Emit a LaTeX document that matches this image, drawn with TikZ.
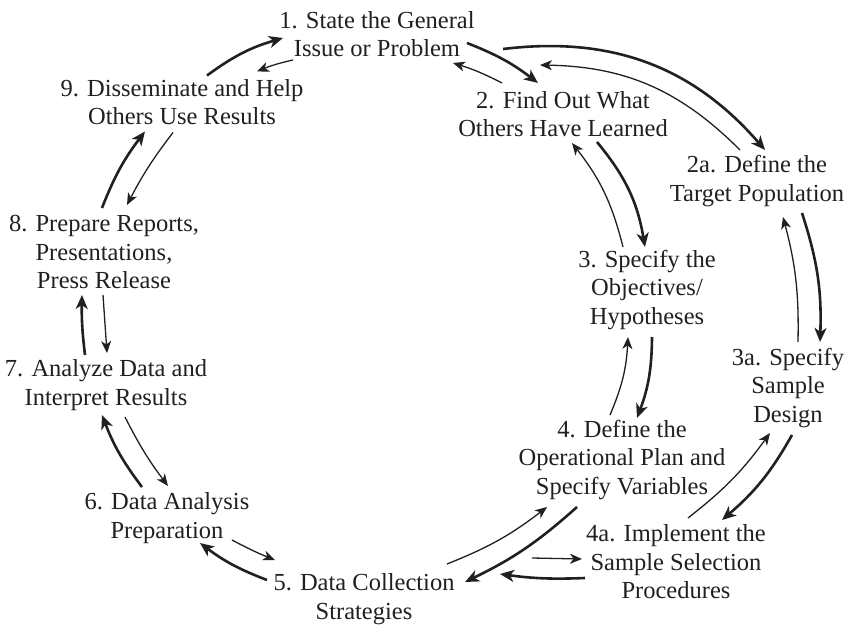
\documentclass[tikz,border=0pt]{standalone}
\usepackage{fontspec}
\setmainfont{Liberation Serif}
\usetikzlibrary{arrows.meta,calc}
\definecolor{ink}{HTML}{231F20}
\tikzset{
  stage/.style={align=center, inner sep=0pt, text=ink,
    font=\fontsize{24.5}{28.5}\selectfont},
  fwd/.style={draw=ink, line width=2.6pt,
    -{Stealth[length=14pt, width=12pt, inset=4pt]}},
  back/.style={draw=ink, line width=1.3pt,
    -{Stealth[length=12pt, width=10pt, inset=3.5pt]}},
}
\begin{document}
\begin{tikzpicture}[x=1pt, y=-1pt]
\useasboundingbox (0,0) rectangle (847,626);

% stages of the research cycle
\node[stage] (s1)  at (377,34)  {1. State the General\\Issue or Problem};
\node[stage] (s9)  at (182,102) {9. Disseminate and Help\\Others Use Results};
\node[stage] (s2)  at (563,114) {2. Find Out What\\Others Have Learned};
\node[stage] (s2a) at (757,181) {2a. Define the\\Target Population};
\node[stage] (s8)  at (104,252) {8. Prepare Reports,\\Presentations,\\Press Release};
\node[stage] (s3)  at (647,290) {3. Specify the\\Objectives/\\Hypotheses};
\node[stage] (s3a) at (788,388) {3a. Specify\\Sample\\Design};
\node[stage] (s7)  at (106,385) {7. Analyze Data and\\Interpret Results};
\node[stage] (s4)  at (622,460) {4. Define the\\Operational Plan and\\Specify Variables};
\node[stage] (s6)  at (167,518) {6. Data Analysis\\Preparation};
\node[stage] (s4a) at (676,562) {4a. Implement the\\Sample Selection\\Procedures};
\node[stage] (s5)  at (364,599) {5. Data Collection\\Strategies};

% forward steps (thick) and feedback steps (thin)
\draw[fwd]  ($(s9)+(25,-26.5)$) to[bend left=10] ($(s1)+(-94,4)$);
\draw[back] ($(s1)+(-84,26)$)   to[bend right=5] ($(s9)+(75,-30.5)$);

\draw[fwd]  ($(s1)+(90,9)$)     to[bend left=8]  ($(s2)+(-25,-31)$);
\draw[back] ($(s2)+(-61,-31)$)  to[bend right=5] ($(s1)+(76,29)$);

\draw[fwd]  ($(s1)+(126,15)$)   to[bend left=28] ($(s2a)+(8,-31)$);
\draw[back] ($(s2a)+(-17,-31)$) to[bend right=22] ($(s2)+(-23,-49)$);

\draw[fwd]  ($(s2)+(34,28)$)    to[bend left=15] ($(s3)+(-2,-43)$);
\draw[back] ($(s3)+(-24,-43)$)  to[bend right=12] ($(s2)+(9,29)$);

\draw[fwd]  ($(s2a)+(45,32)$)   to[bend left=10] ($(s3a)+(32,-46)$);
\draw[back] ($(s3a)+(10,-46)$)  to[bend right=8] ($(s2a)+(26,36)$);

\draw[fwd]  ($(s3)+(5,47)$)     to[bend left=10] ($(s4)+(15,-42)$);
\draw[back] ($(s4)+(-12,-45)$)  to[bend right=10] ($(s3)+(-19,47)$);

\draw[fwd]  ($(s3a)+(4,47)$)    to[bend left=10] ($(s4a)+(46,-42)$);
\draw[back] ($(s4a)+(12,-44)$)  to[bend right=8] ($(s3a)+(-18,45)$);

\draw[fwd]  ($(s4)+(-45,47)$)   to[bend left=8]  ($(s5)+(101,-17)$);
\draw[back] ($(s5)+(83,-35)$)   to[bend right=8] ($(s4)+(-75,47)$);

\draw[fwd]  ($(s4a)+(-91,16)$)  to[bend left=5]  ($(s5)+(136,-25)$);
\draw[back] ($(s5)+(168,-41)$)  -- ($(s4a)+(-94,-3)$);

\draw[fwd]  ($(s5)+(-97,-19)$)  to[bend left=8]  ($(s6)+(33,25)$);
\draw[back] ($(s6)+(65,22)$)    to[bend right=3] ($(s5)+(-89,-39)$);

\draw[fwd]  ($(s6)+(-25,-31)$)  to[bend left=8]  ($(s7)+(-4,30)$);
\draw[back] ($(s7)+(19,32)$)    to[bend right=5] ($(s6)+(1,-32)$);

\draw[fwd]  ($(s7)+(-21,-30)$)  to[bend left=4]  ($(s8)+(-22,43)$);
\draw[back] ($(s8)+(-1,43)$)    -- ($(s7)+(1,-32)$);

\draw[fwd]  ($(s8)+(-2,-44)$)   to[bend left=8]  ($(s9)+(-37,29.5)$);
\draw[back] ($(s9)+(-9,30.5)$)  to[bend right=5] ($(s8)+(23,-47)$);
\end{tikzpicture}
\end{document}
